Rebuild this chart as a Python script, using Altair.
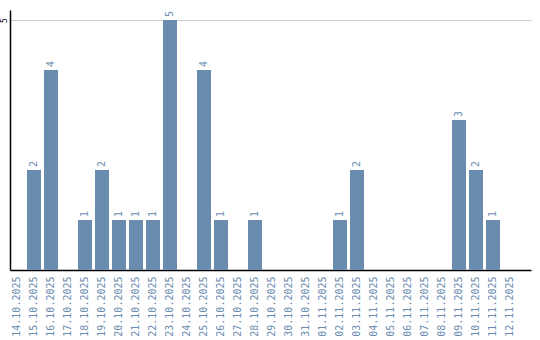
import altair as alt
import pandas as pd

dates = ["14.10.2025", "15.10.2025", "16.10.2025", "17.10.2025", "18.10.2025",
         "19.10.2025", "20.10.2025", "21.10.2025", "22.10.2025", "23.10.2025",
         "24.10.2025", "25.10.2025", "26.10.2025", "27.10.2025", "28.10.2025",
         "29.10.2025", "30.10.2025", "31.10.2025", "01.11.2025", "02.11.2025",
         "03.11.2025", "04.11.2025", "05.11.2025", "06.11.2025", "07.11.2025",
         "08.11.2025", "09.11.2025", "10.11.2025", "11.11.2025", "12.11.2025"]
counts = [0, 2, 4, 0, 1, 2, 1, 1, 1, 5,
          0, 4, 1, 0, 1, 0, 0, 0, 0, 1,
          2, 0, 0, 0, 0, 0, 3, 2, 1, 0]

df = pd.DataFrame({"date": dates, "count": counts})

BAR = "#6a8caf"
FONT = "DejaVu Sans Mono"

x = alt.X("date:N", sort=dates, title=None,
          scale=alt.Scale(paddingInner=0.1765, paddingOuter=0.412, align=0),
          axis=alt.Axis(labelAngle=-90, labelAlign="right", labelBaseline="middle",
                        labelColor=BAR, labelFont=FONT, labelFontSize=10,
                        labelPadding=6, ticks=False, domainColor="black",
                        domainWidth=1.5, grid=False, labelOverlap=False))
y = alt.Y("count:Q", title=None,
          scale=alt.Scale(domain=[0, 5.2], nice=False, zero=True),
          axis=alt.Axis(values=[5], labelAngle=-90, labelAlign="center",
                        labelBaseline="bottom", labelFont=FONT, labelFontSize=8,
                        labelColor="black", labelPadding=2, ticks=False,
                        domainColor="black", domainWidth=1.5, grid=True,
                        gridColor="#cccccc", gridWidth=1))

bars = alt.Chart(df).mark_bar(color=BAR).encode(x=x, y=y)

text = alt.Chart(df).transform_filter("datum.count > 0").mark_text(
    angle=270, align="left", baseline="middle", dx=3,
    font=FONT, fontSize=10, color=BAR
).encode(x=alt.X("date:N", sort=dates), y=alt.Y("count:Q"), text="count:Q")

chart = (bars + text).properties(
    width=521, height=260,
    autosize=alt.AutoSizeParams(type="none"),
    padding={"left": 10, "top": 10, "right": 9, "bottom": 70},
).configure_view(stroke=None)

chart.save("out.html", embed_options={"renderer": "svg", "actions": False})
